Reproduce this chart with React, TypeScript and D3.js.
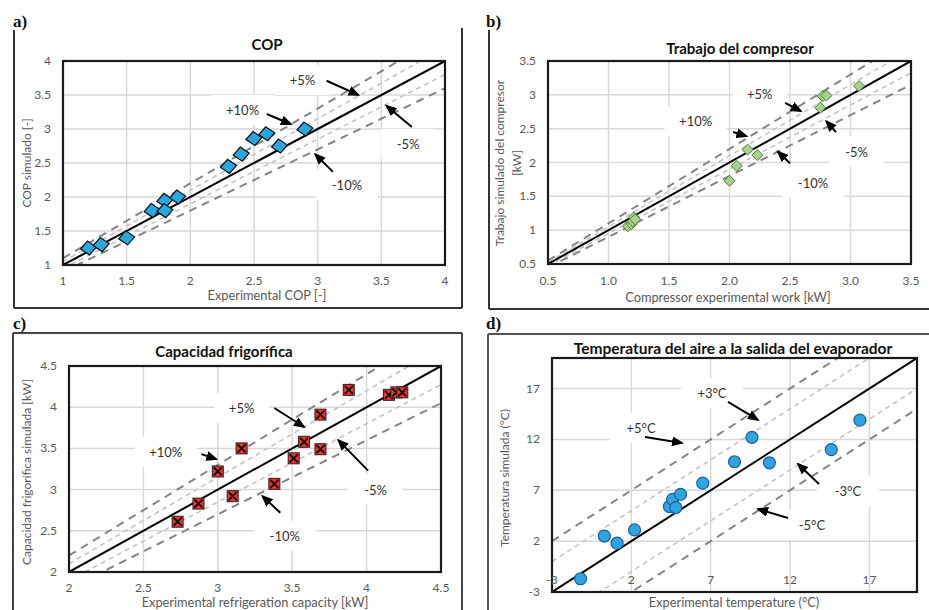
import React from "react";
import * as d3 from "d3";

// ---------- DATA ----------
const copExp = [1.2, 1.3, 1.5, 1.7, 1.8, 1.8, 1.9, 2.3, 2.4, 2.5, 2.6, 2.7, 2.9];
const copSim = [1.25, 1.3, 1.4, 1.8, 1.95, 1.8, 2.0, 2.45, 2.63, 2.86, 2.93, 2.75, 3.0];

const workExp = [1.16, 1.19, 1.2, 1.21, 1.22, 2.0, 2.06, 2.15, 2.23, 2.75, 2.77, 2.8, 3.07];
const workSim = [1.06, 1.09, 1.13, 1.19, 1.16, 1.73, 1.95, 2.19, 2.11, 2.81, 2.98, 2.99, 3.13];

const capExp = [2.73, 2.87, 3.0, 3.1, 3.16, 3.38, 3.51, 3.58, 3.69, 3.69, 3.88, 4.15, 4.2, 4.24];
const capSim = [2.61, 2.83, 3.22, 2.92, 3.5, 3.07, 3.38, 3.58, 3.91, 3.49, 4.21, 4.15, 4.18, 4.18];

const tempExp = [-1.2, 0.3, 1.1, 2.2, 4.4, 4.6, 4.8, 5.1, 6.5, 8.5, 9.6, 10.7, 14.6, 16.4];
const tempSim = [-1.7, 2.5, 1.8, 3.1, 5.4, 6.1, 5.3, 6.6, 7.7, 9.8, 12.2, 9.7, 11.0, 13.9];

const copTicks = [1, 1.5, 2, 2.5, 3, 3.5, 4];
const workTicks = [0.5, 1, 1.5, 2, 2.5, 3, 3.5];
const capTicks = [2, 2.5, 3, 3.5, 4, 4.5];
const tempTicks = [-3, 2, 7, 12, 17];

const pctBands = [0.1, 0.05, -0.05, -0.1];
const tempBands = [5, 3, -3, -5];

// annotations: label, text position, arrow start, arrow end (data units)
const copNotes = ["+5%", "+10%", "-5%", "-10%"];
const copNoteX = [2.88, 2.41, 3.71, 3.23];
const copNoteY = [3.72, 3.28, 2.78, 2.18];
const copArrowFrom = [[3.07, 3.71], [2.6, 3.22], [3.74, 3.03], [3.12, 2.37]];
const copArrowTo = [[3.32, 3.5], [2.79, 3.07], [3.54, 3.34], [2.98, 2.63]];

const workNotes = ["+5%", "+10%", "-5%", "-10%"];
const workNoteX = [2.25, 1.72, 3.05, 2.69];
const workNoteY = [3.01, 2.61, 2.16, 1.7];
const workArrowFrom = [[2.46, 2.88], [2.03, 2.45], [2.88, 2.45], [2.5, 1.99]];
const workArrowTo = [[2.59, 2.76], [2.14, 2.39], [2.8, 2.61], [2.4, 2.16]];

const capNotes = ["+5%", "+10%", "-5%", "-10%"];
const capNoteX = [3.16, 2.65, 4.06, 3.45];
const capNoteY = [3.99, 3.46, 3.0, 2.44];
const capArrowFrom = [[3.38, 3.99], [2.89, 3.43], [4.01, 3.23], [3.42, 2.72]];
const capArrowTo = [[3.58, 3.76], [2.99, 3.37], [3.81, 3.6], [3.3, 2.92]];

const tempNotes = ["+3°C", "+5°C", "-3°C", "-5°C"];
const tempNoteX = [7.08, 2.61, 15.65, 13.38];
const tempNoteY = [16.57, 13.13, 6.93, 3.59];
const tempArrowFrom = [[8.09, 15.68], [2.86, 12.24], [13.82, 7.62], [11.87, 4.28]];
const tempArrowTo = [[9.98, 13.91], [5.19, 11.65], [12.5, 9.59], [9.98, 5.16]];

const FONT = "Lato, 'Open Sans', sans-serif";
const TICK = "#595959";

type Cfg = {
  id: string;
  letter: string; letterX: number; letterY: number;
  frame: number[][];
  frameColor: string;
  x0: number; x1: number; y0: number; y1: number;
  domain: [number, number];
  ticks: number[];
  xFmt: (v: number) => string;
  yFmt: (v: number) => string;
  title: string; titleX: number; titleY: number; titleSize: number;
  xTitle: string; xTitleX: number; xTitleY: number;
  yTitle: string[]; yTitleX: number[]; yTitleY: number;
  xTickY: number;
  xs: number[]; ys: number[];
  marker: "diamond" | "smallDiamond" | "xsquare" | "circle";
  bands: number[]; additive: boolean;
  notes: string[]; noteX: number[]; noteY: number[];
  arrowFrom: number[][]; arrowTo: number[][];
};

const fmtPlain = (v: number) => String(v);

const panels: Cfg[] = [
  {
    id: "a", letter: "a)", letterX: 13, letterY: 27,
    frame: [[14, 30, 14, 308], [14, 308, 462, 308], [462, 28, 462, 308]], frameColor: "#333",
    x0: 63, x1: 445, y0: 61, y1: 265, domain: [1, 4], ticks: copTicks,
    xFmt: fmtPlain, yFmt: fmtPlain,
    title: "COP", titleX: 267, titleY: 50, titleSize: 15,
    xTitle: "Experimental COP [-]", xTitleX: 267, xTitleY: 300,
    yTitle: ["COP simulado [-]"], yTitleX: [27], yTitleY: 163, xTickY: 285,
    xs: copExp, ys: copSim, marker: "diamond", bands: pctBands, additive: false,
    notes: copNotes, noteX: copNoteX, noteY: copNoteY, arrowFrom: copArrowFrom, arrowTo: copArrowTo,
  },
  {
    id: "b", letter: "b)", letterX: 486, letterY: 27,
    frame: [[489, 30, 489, 309], [489, 309, 929, 309]], frameColor: "#333",
    x0: 548, x1: 911, y0: 61, y1: 264, domain: [0.5, 3.5], ticks: workTicks,
    xFmt: d3.format(".1f"), yFmt: fmtPlain,
    title: "Trabajo del compresor", titleX: 740, titleY: 54, titleSize: 15,
    xTitle: "Compressor experimental work [kW]", xTitleX: 728, xTitleY: 302,
    yTitle: ["Trabajo simulado del compresor", "[kW]"], yTitleX: [500, 517], yTitleY: 163, xTickY: 285,
    xs: workExp, ys: workSim, marker: "smallDiamond", bands: pctBands, additive: false,
    notes: workNotes, noteX: workNoteX, noteY: workNoteY, arrowFrom: workArrowFrom, arrowTo: workArrowTo,
  },
  {
    id: "c", letter: "c)", letterX: 13, letterY: 329,
    frame: [[13, 333, 462, 333], [13, 333, 13, 610], [462, 333, 462, 610]], frameColor: "#444",
    x0: 69, x1: 441, y0: 366, y1: 572, domain: [2, 4.5], ticks: capTicks,
    xFmt: fmtPlain, yFmt: fmtPlain,
    title: "Capacidad frigorífica", titleX: 224, titleY: 357, titleSize: 15,
    xTitle: "Experimental refrigeration capacity [kW]", xTitleX: 255, xTitleY: 607,
    yTitle: ["Capacidad frigorífica simulada [kW]"], yTitleX: [27], yTitleY: 472, xTickY: 592,
    xs: capExp, ys: capSim, marker: "xsquare", bands: pctBands, additive: false,
    notes: capNotes, noteX: capNoteX, noteY: capNoteY, arrowFrom: capArrowFrom, arrowTo: capArrowTo,
  },
  {
    id: "d", letter: "d)", letterX: 486, letterY: 329,
    frame: [[488, 334, 929, 334], [488, 334, 488, 610]], frameColor: "#555",
    x0: 552, x1: 917, y0: 358, y1: 592, domain: [-3, 20], ticks: tempTicks,
    xFmt: fmtPlain, yFmt: fmtPlain,
    title: "Temperatura del aire a la salida del evaporador", titleX: 733, titleY: 354, titleSize: 15.5,
    xTitle: "Experimental temperature (°C)", xTitleX: 734, xTitleY: 607,
    yTitle: ["Temperatura simulada (°C)"], yTitleX: [505], yTitleY: 478, xTickY: 584,
    xs: tempExp, ys: tempSim, marker: "circle", bands: tempBands, additive: true,
    notes: tempNotes, noteX: tempNoteX, noteY: tempNoteY, arrowFrom: tempArrowFrom, arrowTo: tempArrowTo,
  },
];

function Marker({ kind, cx, cy }: { kind: Cfg["marker"]; cx: number; cy: number }) {
  if (kind === "diamond") {
    return (
      <path d="M-8,1 L-1,-7 L8,-1 L1,7 Z" transform={`translate(${cx},${cy})`}
        fill="#29a8e0" stroke="#111" strokeWidth={1.2} />
    );
  }
  if (kind === "smallDiamond") {
    return (
      <path d="M-5.5,0 L0,-5.5 L5.5,0 L0,5.5 Z" transform={`translate(${cx},${cy})`}
        fill="#a9d18e" stroke="#4e7f2e" strokeWidth={1} />
    );
  }
  if (kind === "xsquare") {
    return (
      <g transform={`translate(${cx},${cy})`}>
        <rect x={-5.5} y={-5.5} width={11} height={11} fill="#f5302f" stroke="#222" strokeWidth={1} />
        <path d="M-4,-4 L4,4 M-4,4 L4,-4" stroke="#000" strokeWidth={1.8} />
      </g>
    );
  }
  return <circle cx={cx} cy={cy} r={6} fill="#2ea4e4" stroke="#1f5f99" strokeWidth={1.2} />;
}

function Panel({ cfg }: { cfg: Cfg }) {
  const x = d3.scaleLinear().domain(cfg.domain).range([cfg.x0, cfg.x1]);
  const y = d3.scaleLinear().domain(cfg.domain).range([cfg.y1, cfg.y0]);
  const [d0, d1] = cfg.domain;
  const line = d3.line<number[]>().x((d) => x(d[0])).y((d) => y(d[1]));
  const clipId = `clip-${cfg.id}`;
  const gridTicks = cfg.ticks.filter((t) => t > d0 && t < d1);

  const bandPts = (b: number) =>
    cfg.additive ? [[d0, d0 + b], [d1, d1 + b]] : [[d0, d0 * (1 + b)], [d1, d1 * (1 + b)]];
  const isOuter = (b: number) => (cfg.additive ? Math.abs(b) >= 5 : Math.abs(b) >= 0.1);

  return (
    <g>
      <defs>
        <clipPath id={clipId}>
          <rect x={cfg.x0} y={cfg.y0} width={cfg.x1 - cfg.x0} height={cfg.y1 - cfg.y0} />
        </clipPath>
      </defs>
      {cfg.frame.map((f, i) => (
        <line key={i} x1={f[0]} y1={f[1]} x2={f[2]} y2={f[3]} stroke={cfg.frameColor} strokeWidth={2} />
      ))}
      <text x={cfg.letterX} y={cfg.letterY} fontFamily="'Liberation Serif', serif" fontWeight="bold" fontSize={17} fill="#111">
        {cfg.letter}
      </text>
      <text x={cfg.titleX} y={cfg.titleY} textAnchor="middle" fontFamily={FONT} fontWeight="bold" fontSize={cfg.titleSize} fill="#111">
        {cfg.title}
      </text>
      {/* gridlines */}
      {gridTicks.map((t) => (
        <line key={`gx${t}`} x1={x(t)} x2={x(t)} y1={cfg.y0} y2={cfg.y1} stroke="#d9d9d9" strokeWidth={1.5} />
      ))}
      {gridTicks.map((t) => (
        <line key={`gy${t}`} x1={cfg.x0} x2={cfg.x1} y1={y(t)} y2={y(t)} stroke="#d9d9d9" strokeWidth={1.5} />
      ))}
      {/* white label boxes (hide gridlines) */}
      {cfg.notes.map((n, i) => {
        const w = n.length * 7.5 + 32;
        return (
          <rect key={`bx${i}`} x={x(cfg.noteX[i]) - w / 2} y={y(cfg.noteY[i]) - 15} width={w} height={30} fill="#fff" />
        );
      })}
      <g clipPath={`url(#${clipId})`}>
        {cfg.bands.map((b) => (
          <path key={`b${b}`} d={line(bandPts(b)) || ""} fill="none"
            stroke={isOuter(b) ? "#858585" : "#c4c4c4"}
            strokeWidth={isOuter(b) ? 2 : 1.6}
            strokeDasharray={isOuter(b) ? "8,6" : "5,4"} />
        ))}
        <path d={line([[d0, d0], [d1, d1]]) || ""} fill="none" stroke="#000" strokeWidth={2} />
      </g>
      {cfg.xs.map((v, i) => (
        <Marker key={`m${i}`} kind={cfg.marker} cx={x(v)} cy={y(cfg.ys[i])} />
      ))}
      <rect x={cfg.x0} y={cfg.y0} width={cfg.x1 - cfg.x0} height={cfg.y1 - cfg.y0} fill="none" stroke="#1a1a1a" strokeWidth={2.2} />
      {/* tick labels */}
      {cfg.ticks.map((t) => (
        <text key={`ty${t}`} x={cfg.x0 - 12} y={y(t) + 4} textAnchor="end" fontFamily={FONT} fontSize={12} fill={TICK}>
          {cfg.yFmt(t)}
        </text>
      ))}
      {cfg.ticks.map((t) => (
        <text key={`tx${t}`} x={x(t)} y={cfg.xTickY} textAnchor="middle" fontFamily={FONT} fontSize={12} fill={TICK}>
          {cfg.xFmt(t)}
        </text>
      ))}
      {/* axis titles */}
      <text x={cfg.xTitleX} y={cfg.xTitleY} textAnchor="middle" fontFamily={FONT} fontSize={12.8} fill={TICK}>
        {cfg.xTitle}
      </text>
      {cfg.yTitle.map((t, i) => (
        <text key={`yt${i}`} transform={`translate(${cfg.yTitleX[i] + 4},${cfg.yTitleY}) rotate(-90)`}
          textAnchor="middle" fontFamily={FONT} fontSize={12} fill={TICK}>
          {t}
        </text>
      ))}
      {/* annotations */}
      {cfg.notes.map((n, i) => (
        <g key={`n${i}`}>
          <text x={x(cfg.noteX[i])} y={y(cfg.noteY[i]) + 5} textAnchor="middle" fontFamily={FONT} fontSize={13} fill="#333">
            {n}
          </text>
          <line x1={x(cfg.arrowFrom[i][0])} y1={y(cfg.arrowFrom[i][1])}
            x2={x(cfg.arrowTo[i][0])} y2={y(cfg.arrowTo[i][1])}
            stroke="#000" strokeWidth={2} markerEnd="url(#arrowhead)" />
        </g>
      ))}
    </g>
  );
}

export default function App() {
  return (
    <svg width={929} height={610} style={{ position: "absolute", left: 0, top: 0, background: "#fff" }}>
      <defs>
        <marker id="arrowhead" viewBox="0 0 12 10" refX={10} refY={5} markerWidth={12} markerHeight={10}
          markerUnits="userSpaceOnUse" orient="auto">
          <path d="M0,0 L12,5 L0,10 z" fill="#000" />
        </marker>
      </defs>
      <rect x={0} y={0} width={929} height={610} fill="#fff" />
      {panels.map((p) => (
        <Panel key={p.id} cfg={p} />
      ))}
    </svg>
  );
}
